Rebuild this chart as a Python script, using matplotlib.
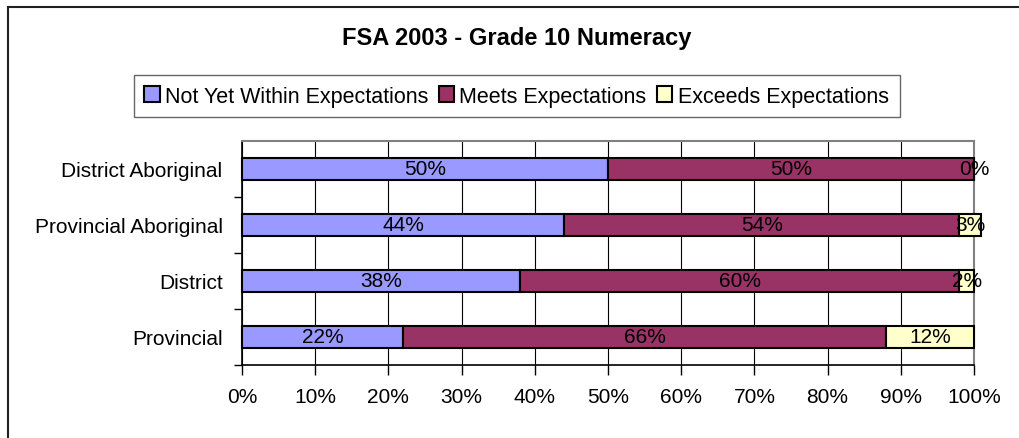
import matplotlib
matplotlib.use("Agg")
import matplotlib.pyplot as plt
from matplotlib.lines import Line2D
from matplotlib.ticker import FixedLocator

plt.rcParams['font.family'] = ['Liberation Sans', 'DejaVu Sans']

# data (bottom to top, as drawn)
groups = ["Provincial", "District", "Provincial Aboriginal", "District Aboriginal"]
not_yet = [22, 38, 44, 50]
meets = [66, 60, 54, 50]
exceeds = [12, 2, 3, 0]
series_names = ["Not Yet Within Expectations", "Meets Expectations", "Exceeds Expectations"]
colors = ["#9999FF", "#993366", "#FFFFCC"]
x_ticks = list(range(0, 101, 10))

W, H = 1019, 439
fig = plt.figure(figsize=(W / 100, H / 100), dpi=100)

# chart area border: only top and left edges are inside the picture
bx, by = 7.5 / W, 1 - 7.5 / H
fig.add_artist(Line2D([bx, 1.0], [by, by], transform=fig.transFigure, color="#202020", linewidth=1.5))
fig.add_artist(Line2D([bx, bx], [0.0, by], transform=fig.transFigure, color="#202020", linewidth=1.5))

ax = fig.add_axes([242 / W, (H - 366) / H, (974 - 242) / W, (366 - 142) / H])

pos = list(range(len(groups)))
lefts = [0] * len(groups)
bars = []
for vals, name, col in zip([not_yet, meets, exceeds], series_names, colors):
    b = ax.barh(pos, vals, left=lefts, height=0.41, color=col, edgecolor="black",
                linewidth=1.5, label=name, clip_on=False, zorder=3)
    bars.append(b)
    for y, v, l in zip(pos, vals, lefts):
        ax.text(l + v / 2, y, f"{v}%", ha="center", va="center", fontsize=15, zorder=5)
    lefts = [l + v for l, v in zip(lefts, vals)]

ax.set_xlim(0, 100)
ax.set_ylim(-0.5, len(groups) - 0.5)

ax.xaxis.set_major_locator(FixedLocator(x_ticks))
ax.set_xticklabels([f"{t}%" for t in x_ticks], fontsize=15)
ax.tick_params(axis="x", direction="out", length=7, width=1, pad=9)

ax.yaxis.set_major_locator(FixedLocator([p + 0.5 for p in pos[:-1]] + [-0.5]))
ax.yaxis.set_minor_locator(FixedLocator(pos))
ax.set_yticklabels([])
ax.set_yticklabels(groups, minor=True, fontsize=15)
ax.tick_params(axis="y", which="major", direction="out", length=6, width=1)
ax.tick_params(axis="y", which="minor", length=0, pad=14)

ax.grid(axis="x", color="black", linewidth=0.8, zorder=1)
ax.set_axisbelow(True)
for s in ["top", "right"]:
    ax.spines[s].set_color("#808080")
    ax.spines[s].set_linewidth(1.5)
for s in ["left", "bottom"]:
    ax.spines[s].set_color("black")
    ax.spines[s].set_linewidth(1.2)

fig.text(0.507, 1 - 38 / H, "FSA 2003 - Grade 10 Numeracy", ha="center", va="center",
         fontsize=17, fontweight="bold")

leg = fig.legend(handles=bars, labels=series_names, loc="center",
                 bbox_to_anchor=(0.507, 1 - 97 / H), ncol=3, fontsize=15.5,
                 frameon=True, fancybox=False, edgecolor="#404040",
                 handlelength=0.7, handleheight=0.7, handletextpad=0.25,
                 columnspacing=0.5, borderpad=0.5, borderaxespad=0)
leg.get_frame().set_linewidth(1.0)

fig.savefig("out.png", dpi=100)
